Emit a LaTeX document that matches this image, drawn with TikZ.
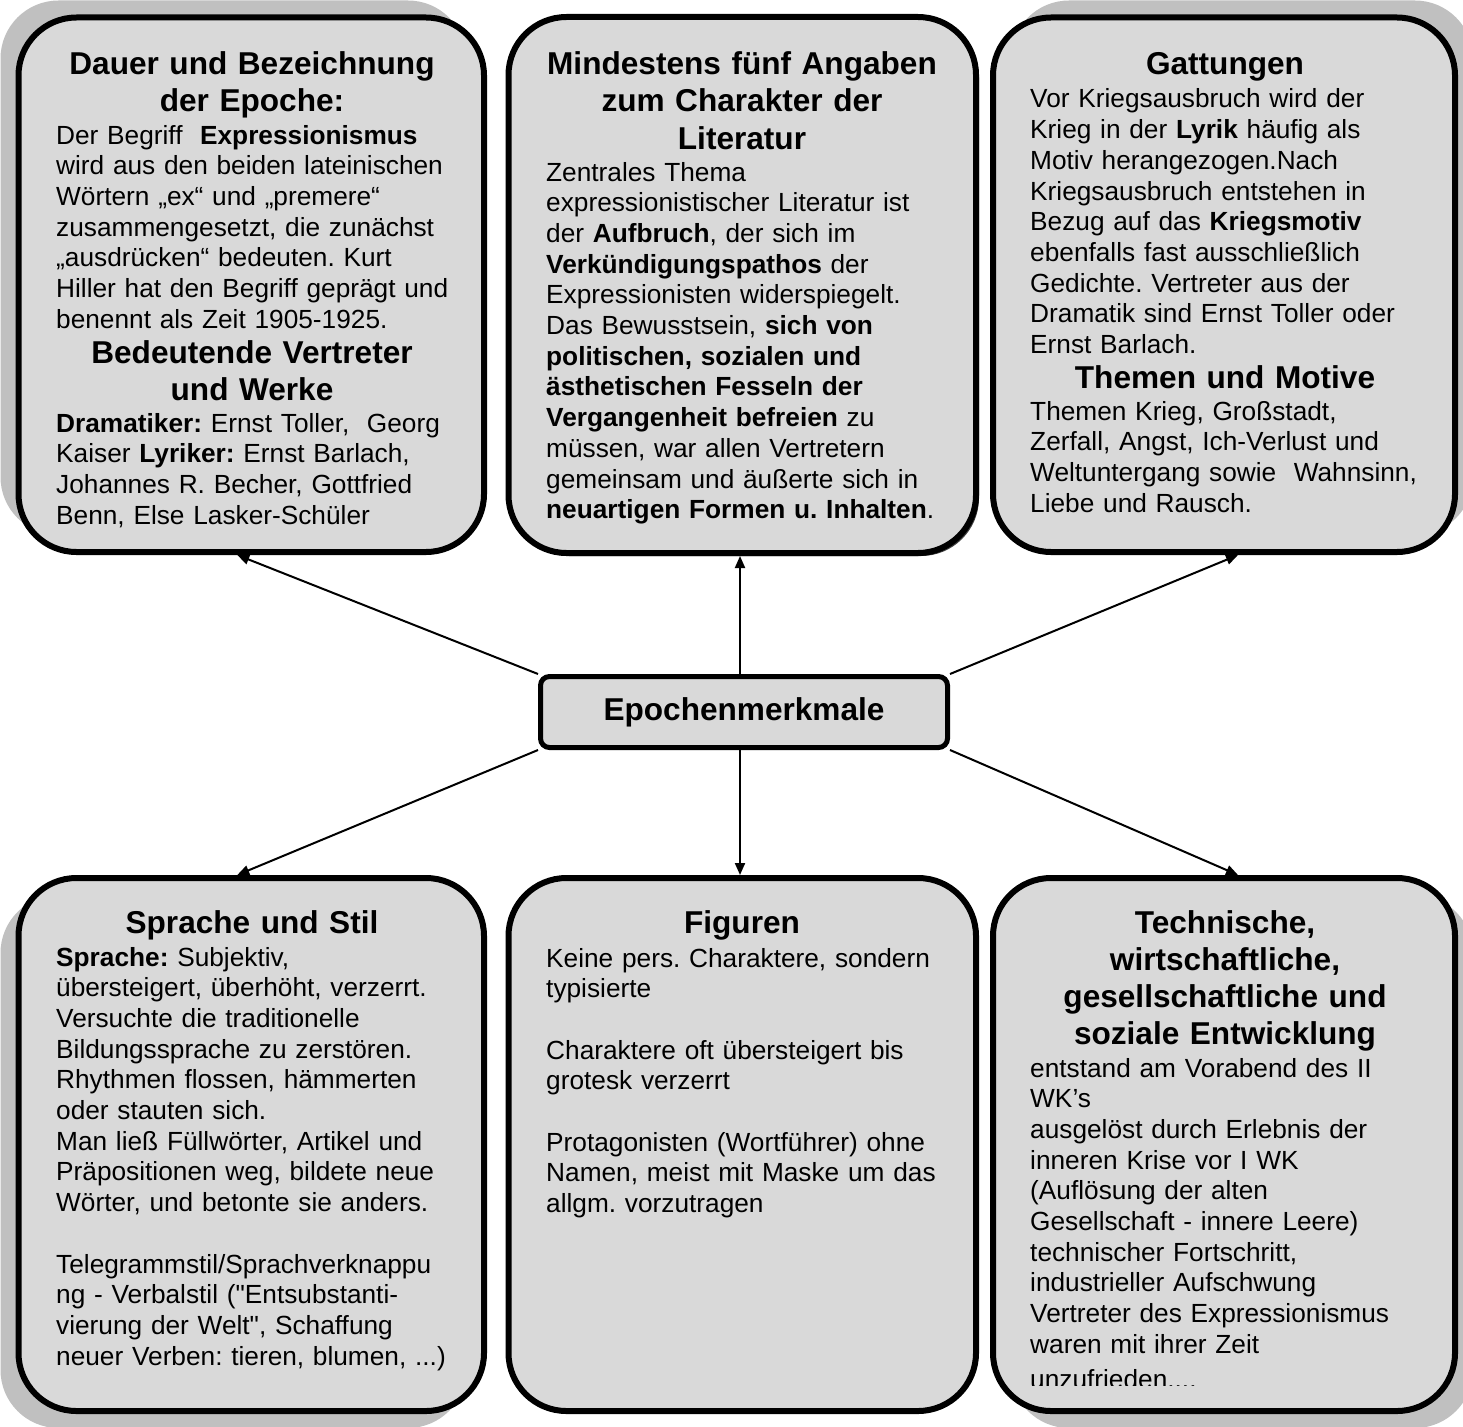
\documentclass[tikz,border=0pt]{standalone}
\usepackage{fontspec}
\setmainfont{Liberation Sans}[Ligatures=TeXOff]
\usetikzlibrary{arrows.meta,backgrounds}
\frenchspacing
\definecolor{boxfill}{HTML}{D9D9D9}
\definecolor{backfill}{HTML}{C0C0C0}
\tikzset{
  bigbox/.style={draw=black, line width=6pt, fill=boxfill, rounded corners=58pt, inner sep=0pt},
  cbox/.style={draw=black, line width=5pt, fill=boxfill, rounded corners=9pt, inner sep=0pt,
    font=\fontsize{31.6}{37}\selectfont\bfseries},
  title/.style={anchor=base, align=center, text width=460pt, inner sep=0pt,
    font=\fontsize{31.6}{37}\selectfont\bfseries},
  body/.style={anchor=base west, align=left, text width=460pt, inner sep=0pt,
    font=\fontsize{26.25}{30.7}\selectfont\frenchspacing},
  link/.style={line width=2pt, -{Triangle[length=12pt,width=10pt]}},
  backing/.style={fill=backfill, rounded corners=58pt},
  shade/.style={fill=black!75, rounded corners=58pt},
}
\begin{document}
\begin{tikzpicture}[x=1pt,y=-1pt]
\useasboundingbox (0,0) rectangle (1463,1426);
\begin{scope}
\clip (0,0) rectangle (1463,1426);
% grey backings
\fill[backing] (0.5,0.5) rectangle (466,535);
\fill[backing] (1011,0.5) rectangle (1473,535);
\fill[backing] (0.5,895) rectangle (466,1428);
\fill[backing] (1011,895) rectangle (1473,1428);
\fill[shade] (511.5,20) rectangle (979,556);
\end{scope}

% boxes
\node[bigbox, minimum width=465.5pt, minimum height=534.5pt] (tl) at (251.25,284.75) {};
\node[bigbox, minimum width=467.5pt, minimum height=536pt] (tm) at (742.25,285) {};
\node[bigbox, minimum width=462pt, minimum height=534.5pt] (tr) at (1224,284.75) {};
\node[bigbox, minimum width=465.5pt, minimum height=533pt] (bl) at (251.25,1144.5) {};
\node[bigbox, minimum width=467.5pt, minimum height=533pt] (bm) at (742.25,1144.5) {};
\node[bigbox, minimum width=462pt, minimum height=533pt] (br) at (1224,1144.5) {};
\node[cbox, minimum width=407pt, minimum height=71pt] (c) at (744,712) {Epochenmerkmale};

% top left
\node[title] (tlh1) at (252,75) {Dauer und Bezeichnung\\der Epoche:};
\node[body] (tlb1) at (56,144) {Der Begriff\ \ \textbf{Expressionismus}\\
wird aus den beiden lateinischen\\
Wörtern „ex“ und „premere“\\
zusammengesetzt, die zunächst\\
„ausdrücken“ bedeuten. Kurt\\
Hiller hat den Begriff geprägt und\\
benennt als Zeit 1905-1925.};
\node[title] (tlh2) at (252,363) {Bedeutende Vertreter\\und Werke};
\node[body] (tlb2) at (56,432) {\textbf{Dramatiker:} Ernst Toller,\ \ Georg\\
Kaiser \textbf{Lyriker:} Ernst Barlach,\\
Johannes R. Becher, Gottfried\\
Benn, Else Lasker-Schüler};

% top middle
\node[title] (tmh) at (742,75) {Mindestens fünf Angaben\\zum Charakter der\\Literatur};
\node[body] (tmb) at (546,181) {Zentrales Thema\\
expressionistischer Literatur ist\\
der \textbf{Aufbruch}, der sich im\\
\textbf{Verkündigungspathos} der\\
Expressionisten widerspiegelt.\\
Das Bewusstsein, \textbf{sich von}\\
\textbf{politischen, sozialen und}\\
\textbf{ästhetischen Fesseln der}\\
\textbf{Vergangenheit befreien} zu\\
müssen, war allen Vertretern\\
gemeinsam und äußerte sich in\\
\textbf{neuartigen Formen u. Inhalten}.};

% top right
\node[title] (trh1) at (1225,75) {Gattungen};
\node[body] (trb1) at (1030,108) {Vor Kriegsausbruch wird der\\
Krieg in der \textbf{Lyrik} häufig als\\
Motiv herangezogen.Nach\\
Kriegsausbruch entstehen in\\
Bezug auf das \textbf{Kriegsmotiv}\\
ebenfalls fast ausschließlich\\
Gedichte. Vertreter aus der\\
Dramatik sind Ernst Toller oder\\
Ernst Barlach.};
\node[title] (trh2) at (1225,388) {Themen und Motive};
\node[body] (trb2) at (1030,420) {Themen Krieg, Großstadt,\\
Zerfall, Angst, Ich-Verlust und\\
Weltuntergang sowie\ \ Wahnsinn,\\
Liebe und Rausch.};

% bottom left
\node[title] (blh) at (252,933) {Sprache und Stil};
\node[body] (blb) at (56,966) {\textbf{Sprache:} Subjektiv,\\
übersteigert, überhöht, verzerrt.\\
Versuchte die traditionelle\\
Bildungssprache zu zerstören.\\
Rhythmen flossen, hämmerten\\
oder stauten sich.\\
Man ließ Füllwörter, Artikel und\\
Präpositionen weg, bildete neue\\
Wörter, und betonte sie anders.\\[30.7pt]
Telegrammstil/Sprachverknappu\\
ng - Verbalstil ("Entsubstanti-\\
vierung der Welt", Schaffung\\
neuer Verben: tieren, blumen, ...)};

% bottom middle
\node[title] (bmh) at (742,933) {Figuren};
\node[body] (bmb) at (546,967) {Keine pers. Charaktere, sondern\\
typisierte\\[30.7pt]
Charaktere oft übersteigert bis\\
grotesk verzerrt\\[30.7pt]
Protagonisten (Wortführer) ohne\\
Namen, meist mit Maske um das\\
allgm. vorzutragen};

% bottom right
\node[title] (brh) at (1225,933) {Technische,\\wirtschaftliche,\\gesellschaftliche und\\soziale Entwicklung};
\node[body] (brb) at (1030,1077) {entstand am Vorabend des II\\
WK’s\\
ausgelöst durch Erlebnis der\\
inneren Krise vor I WK\\
(Auflösung der alten\\
Gesellschaft - innere Leere)\\
technischer Fortschritt,\\
industrieller Aufschwung\\
Vertreter des Expressionismus\\
waren mit ihrer Zeit};
\begin{scope}
\clip (1000,1340) rectangle (1440,1385.5);
\node[body] (brb2) at (1030,1388) {unzufrieden....};
\end{scope}

% connectors
\begin{pgfonlayer}{background}
\draw[link] (c.north west) -- ([xshift=-14pt]tl.south);
\draw[link] ([xshift=-4pt]c.north) -- ([xshift=-4pt]c.north |- tm.south);
\draw[link] (c.north east) -- ([xshift=14pt]tr.south);
\draw[link] (c.south west) -- ([xshift=-14pt]bl.north);
\draw[link] ([xshift=-4pt]c.south) -- ([xshift=-4pt]c.south |- bm.north);
\draw[link] (c.south east) -- ([xshift=14pt]br.north);
\end{pgfonlayer}
\end{tikzpicture}
\end{document}
